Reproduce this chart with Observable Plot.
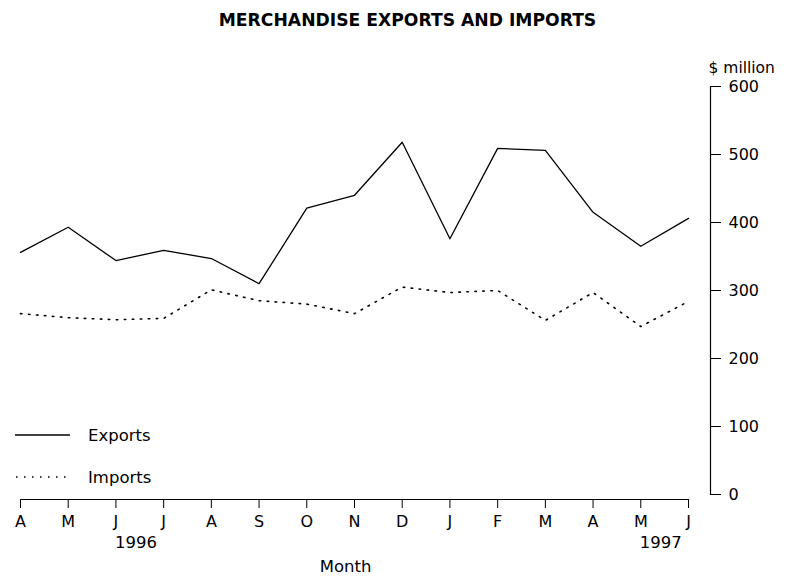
<!DOCTYPE html>
<html>
<head>
<meta charset="utf-8">
<script src="https://cdn.jsdelivr.net/npm/d3@7"></script>
<script src="https://cdn.jsdelivr.net/npm/@observablehq/plot@0.6"></script>
<style>
  body { margin: 0; background: #fff; font-family: "DejaVu Sans", sans-serif; }
  #wrap { position: relative; width: 787px; height: 578px; overflow: hidden; }
  #title { height: 40px; width: 787px; box-sizing: border-box; padding-left: 28px;
           display: flex; align-items: center; justify-content: center;
           font-weight: bold; font-size: 17.2px; color: #000; }
  .leg { position: absolute; left: 15px; display: flex; align-items: center; font-size: 16.5px; color: #000; }
  .leg svg { margin-right: 18px; }
</style>
</head>
<body>
<div id="wrap">
  <div id="title">MERCHANDISE EXPORTS AND IMPORTS</div>
  <div id="chart"></div>
  <div class="leg" style="top:425px"><svg width="55" height="20"><line x1="0" x2="55" y1="10" y2="10" stroke="#000" stroke-width="1.3"/></svg>Exports</div>
  <div class="leg" style="top:467px"><svg width="55" height="20"><line x1="1" x2="51" y1="10" y2="10" stroke="#000" stroke-width="1.6" stroke-dasharray="1.5,6.5"/></svg>Imports</div>
</div>
<script>
const months = ["A","M","J","J","A","S","O","N","D","J","F","M","A","M","J"];
const exportsVals = [356, 393, 344, 359, 347, 310, 421, 440, 518, 376, 509, 506, 415, 365, 406];
const importsVals = [266, 260, 257, 259, 301, 285, 280, 266, 305, 297, 300, 256, 297, 247, 284];
const yTicks = [0, 100, 200, 300, 400, 500, 600];
const yearLabels = [{year: "1996", at: 2}, {year: "1997", at: 13}];

const exportsRows = exportsVals.map((v, i) => ({i, v}));
const importsRows = importsVals.map((v, i) => ({i, v}));
const last = months.length - 1;

const chart = Plot.plot({
  width: 787,
  height: 538,
  marginTop: 46,
  marginBottom: 84,
  marginLeft: 20,
  marginRight: 77,
  x: {domain: [0, last + 0.461], axis: null},
  y: {domain: [0, 600], axis: null},
  style: {fontFamily: "DejaVu Sans, sans-serif", fontSize: "16.5px", color: "#000", background: "#fff", overflow: "visible"},
  marks: [
    Plot.ruleY([0], {x1: 0, x2: last, dy: 5, stroke: "#000", strokeWidth: 1.2}),
    Plot.axisX({ticks: d3.range(months.length), tickFormat: i => months[i], tickSize: 9, tickPadding: 7, dy: 5, label: null, stroke: "#000", fontSize: "16px"}),
    Plot.frame({anchor: "right", stroke: "#000", strokeWidth: 1.2}),
    Plot.axisY({anchor: "right", ticks: yTicks, tickSize: 10, tickPadding: 8, label: null, stroke: "#000", fontSize: "16px"}),
    Plot.text(["$ million"], {frameAnchor: "top-right", textAnchor: "start", dx: -2, dy: -25, fontSize: "15.5px"}),
    Plot.line(exportsRows, {x: "i", y: "v", stroke: "#000", strokeWidth: 1.3}),
    Plot.line(importsRows, {x: "i", y: "v", stroke: "#000", strokeWidth: 1.6, strokeDasharray: "1.5,6.5"}),
    Plot.text(yearLabels, {x: "at", text: "year", frameAnchor: "bottom", dx: 20, dy: 53}),
    Plot.text(["Month"], {frameAnchor: "bottom", dx: -20, dy: 77})
  ]
});
document.getElementById("chart").appendChild(chart);
</script>
</body>
</html>
